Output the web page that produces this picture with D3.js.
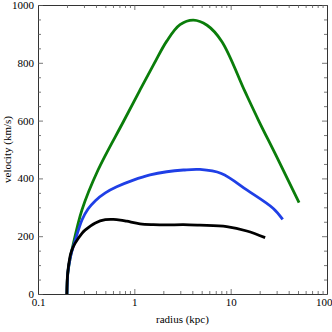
<!DOCTYPE html>
<html><head><meta charset="utf-8">
<script src="https://cdn.jsdelivr.net/npm/d3@7"></script>
<style>body{margin:0;background:#fff}svg{display:block}</style>
</head><body><svg id="c" width="332" height="332"></svg>
<script>
const greenX = [0.2, 0.2034, 0.2149, 0.225, 0.286, 0.42, 0.769, 1.146, 1.6, 2.17, 2.98, 4.1, 5.69, 8.09, 14.1, 19.4, 30, 51.3];
const greenY = [0, 69, 121, 152, 291, 429, 596, 706, 796, 875, 932, 948, 930, 874, 700, 602, 475, 316];
const blueX = [0.2, 0.2034, 0.2149, 0.2282, 0.2422, 0.286, 0.3305, 0.394, 0.5, 0.656, 0.977, 1.456, 2.17, 3.23, 4.8, 8.0, 14.7, 27.7, 34.7];
const blueY = [0, 69, 121, 156, 183, 256, 294, 323, 350, 371, 394, 412, 423, 429, 431, 417, 360, 296, 258];
const blackX = [0.199, 0.2034, 0.2149, 0.225, 0.2422, 0.286, 0.308, 0.394, 0.5, 0.606, 0.714, 0.834, 1.145, 1.574, 2.17, 3.23, 4.8, 9.1, 14.7, 22.8];
const blackY = [0, 72, 129, 152, 175, 210, 221, 246, 257, 258, 256, 252, 243, 240, 239, 240, 238, 233, 218, 195];
const xTickLabels = [0.1, 1, 10, 100];
const yTickLabels = [0, 200, 400, 600, 800, 1000];

const FONT = "'Liberation Serif', 'Times New Roman', 'DejaVu Serif', serif";
const m = {l:38, t:5, r:5, b:38};
const W = 332, H = 332;
const svg = d3.select("#c").attr("font-family", FONT);
const x = d3.scaleLog().domain([0.1, 100]).range([m.l, W - m.r]);
const y = d3.scaleLinear().domain([0, 1000]).range([H - m.b, m.t]);

const minorX = [];
[0.1, 1, 10].forEach(d => { for (let k = 2; k <= 9; k++) minorX.push(d * k); });
const minorY = d3.range(50, 1000, 50).filter(v => v % 200 !== 0);

const fmt = d => d === 0.1 ? "0.1" : String(d);
const ax = svg.append("g");
function addAxis(axis, tr, major, minor, labels) {
  const g1 = ax.append("g").attr("transform", tr).call(axis.tickValues(major).tickSizeInner(-5).tickSizeOuter(0).tickPadding(labels ? 4 : 0).tickFormat(labels ? fmt : ""));
  const g2 = ax.append("g").attr("transform", tr).call(axis.tickValues(minor).tickSizeInner(-3).tickSizeOuter(0).tickFormat(""));
  [g1, g2].forEach(g => {
    g.attr("font-family", FONT);
    g.selectAll("path").attr("stroke", "#333");
    g.selectAll("line").attr("stroke", "#555").attr("stroke-width", 0.8);
    g.selectAll("text").attr("font-size", 11).attr("fill", "#000").attr("font-family", FONT);
  });
  g2.select("path").remove();
  return g1;
}
const bx = addAxis(d3.axisBottom(x), `translate(0,${H - m.b})`, xTickLabels, minorX, true);
bx.selectAll("text").filter(d => d === 100).attr("text-anchor", "end").attr("dx", 5);
addAxis(d3.axisTop(x), `translate(0,${m.t})`, xTickLabels, minorX, false);
addAxis(d3.axisLeft(y), `translate(${m.l},0)`, yTickLabels, minorY, true);
addAxis(d3.axisRight(y), `translate(${W - m.r},0)`, yTickLabels, minorY, false);

const line = d3.line().x(d => x(d[0])).y(d => y(d[1])).curve(d3.curveCatmullRom.alpha(0.5));
const series = [
  {xs: greenX, ys: greenY, c: "#0a7d0a"},
  {xs: blueX, ys: blueY, c: "#1f3fe6"},
  {xs: blackX, ys: blackY, c: "#000"}
];
series.forEach(s => {
  svg.append("path").datum(s.xs.map((v, i) => [v, s.ys[i]]))
    .attr("d", line).attr("fill", "none").attr("stroke", s.c).attr("stroke-width", 2.8).attr("stroke-linecap", "butt");
});

svg.append("text").attr("x", (m.l + W - m.r) / 2).attr("y", 323).attr("text-anchor", "middle")
  .attr("font-size", 11).attr("font-family", FONT).text("radius (kpc)");
svg.append("text").attr("transform", `translate(11,${(m.t + H - m.b) / 2}) rotate(-90)`).attr("text-anchor", "middle")
  .attr("font-size", 11).attr("font-family", FONT).text("velocity (km/s)");
</script></body></html>
